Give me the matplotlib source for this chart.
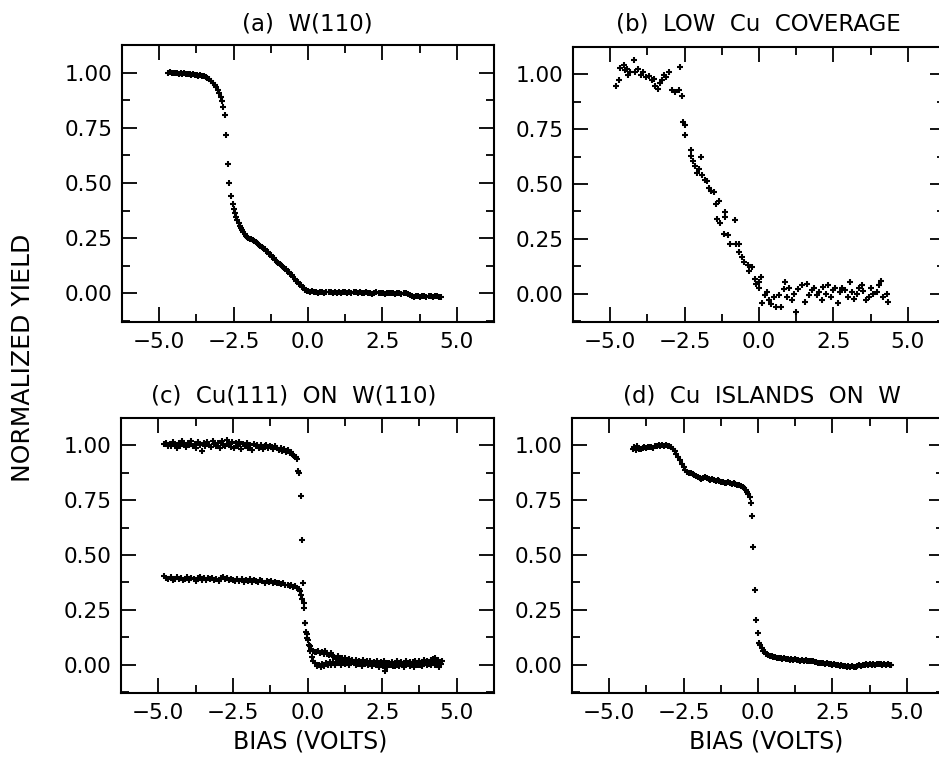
import matplotlib
matplotlib.use('Agg')
import matplotlib.pyplot as plt
from matplotlib.ticker import MultipleLocator, FuncFormatter

# ---- panel (a) W(110) ----
a_x = [-4.70, -4.64, -4.58, -4.52, -4.46, -4.40, -4.34, -4.28, -4.22, -4.16,
       -4.10, -4.04, -3.98, -3.92, -3.86, -3.80, -3.74, -3.68, -3.62, -3.56,
       -3.50, -3.44, -3.38, -3.32, -3.26, -3.20, -3.14, -3.08, -3.03, -2.98,
       -2.93, -2.89, -2.85, -2.80, -2.75, -2.69, -2.64, -2.58, -2.53, -2.49,
       -2.45, -2.41, -2.37, -2.33, -2.29, -2.25, -2.21, -2.17, -2.13, -2.09,
       -2.05, -2.00, -1.95, -1.90, -1.85, -1.80, -1.75, -1.70, -1.65, -1.60,
       -1.55, -1.50, -1.45, -1.40, -1.35, -1.30, -1.25, -1.20, -1.15, -1.10,
       -1.05, -1.00, -0.95, -0.90, -0.85, -0.80, -0.75, -0.70, -0.65, -0.60,
       -0.55, -0.50, -0.45, -0.40, -0.35, -0.30, -0.25, -0.20, -0.15, -0.10,
       -0.05, 0.00, 0.06, 0.13, 0.20, 0.27, 0.34, 0.41, 0.48, 0.55,
       0.62, 0.69, 0.76, 0.83, 0.90, 0.97, 1.04, 1.11, 1.18, 1.25,
       1.32, 1.39, 1.46, 1.53, 1.60, 1.67, 1.74, 1.81, 1.88, 1.95,
       2.02, 2.09, 2.16, 2.23, 2.30, 2.37, 2.44, 2.51, 2.58, 2.65,
       2.72, 2.79, 2.86, 2.93, 3.00, 3.07, 3.14, 3.21, 3.28, 3.35,
       3.42, 3.49, 3.56, 3.63, 3.70, 3.77, 3.84, 3.91, 3.98, 4.05,
       4.12, 4.19, 4.26, 4.33, 4.40, 4.47]
a_y = [1.000, 1.002, 0.998, 1.000, 0.996, 0.999, 0.995, 0.997, 0.993, 0.996,
       0.994, 0.992, 0.995, 0.990, 0.993, 0.989, 0.991, 0.986, 0.989, 0.984,
       0.986, 0.980, 0.976, 0.970, 0.962, 0.955, 0.945, 0.935, 0.922, 0.908,
       0.890, 0.872, 0.845, 0.808, 0.718, 0.585, 0.498, 0.441, 0.403, 0.380,
       0.362, 0.346, 0.332, 0.318, 0.306, 0.295, 0.285, 0.276, 0.268, 0.261,
       0.256, 0.251, 0.248, 0.244, 0.240, 0.236, 0.231, 0.226, 0.220, 0.215,
       0.209, 0.204, 0.199, 0.193, 0.186, 0.179, 0.173, 0.166, 0.159, 0.151,
       0.144, 0.138, 0.132, 0.126, 0.121, 0.116, 0.110, 0.102, 0.095, 0.088,
       0.081, 0.074, 0.066, 0.058, 0.051, 0.044, 0.036, 0.029, 0.022, 0.016,
       0.011, 0.009, 0.006, 0.010, 0.004, 0.008, 0.003, 0.007, 0.005, 0.002,
       0.008, 0.004, 0.006, 0.001, 0.005, 0.003, 0.006, 0.002, 0.004, 0.007,
       0.003, 0.005, 0.001, 0.004, 0.006, 0.002, 0.004, 0.000, 0.003, 0.005,
       0.001, 0.003, -0.001, 0.002, 0.004, 0.000, 0.002, 0.003, -0.001, 0.001,
       0.003, 0.000, 0.002, -0.002, 0.001, 0.003, -0.001, 0.001, 0.002, -0.004,
       -0.008, -0.012, -0.015, -0.010, -0.014, -0.018, -0.012, -0.010, -0.016, -0.013,
       -0.011, -0.017, -0.014, -0.012, -0.016, -0.018]

# ---- panel (b) low Cu coverage ----
b_x = [-4.79, -4.70, -4.68, -4.54, -4.51, -4.43, -4.40, -4.32, -4.21, -4.15,
       -4.06, -3.98, -3.90, -3.81, -3.70, -3.61, -3.53, -3.48, -3.39, -3.34,
       -3.25, -3.20, -3.11, -3.03, -2.92, -2.81, -2.70, -2.65, -2.59, -2.55,
       -2.47, -2.47, -2.30, -2.27, -2.23, -2.16, -2.08, -2.03, -1.94, -1.91,
       -1.82, -1.75, -1.67, -1.60, -1.52, -1.46, -1.35, -1.41, -1.30, -1.15,
       -1.13, -1.18, -1.04, -0.96, -0.81, -0.77, -0.68, -0.68, -0.57, -0.51,
       -0.37, -0.32, -0.23, -0.14, -0.10, -0.01, 0.08, -0.01, 0.10, 0.21,
       0.27, 0.33, 0.42, 0.50, 0.57, 0.66, 0.75, 0.83, 0.88, 0.94,
       1.02, 1.10, 1.19, 1.24, 1.32, 1.43, 1.54, 1.60, 1.68, 1.77,
       1.86, 1.94, 2.02, 2.11, 2.16, 2.24, 2.33, 2.42, 2.49, 2.57,
       2.66, 2.72, 2.80, 2.89, 2.98, 3.05, 3.13, 3.20, 3.28, 3.36,
       3.45, 3.50, 3.61, 3.69, 3.78, 3.84, 3.95, 4.03, 4.10, 4.18,
       4.29, 4.35]
b_y = [0.946, 0.973, 1.029, 1.045, 1.018, 1.026, 0.995, 1.013, 1.066, 1.011,
       1.026, 0.995, 1.011, 0.988, 0.991, 0.976, 0.980, 0.946, 0.935, 0.961,
       0.973, 0.995, 0.988, 1.011, 0.928, 0.920, 0.931, 1.036, 0.902, 0.784,
       0.769, 0.724, 0.656, 0.629, 0.604, 0.584, 0.551, 0.569, 0.623, 0.539,
       0.520, 0.513, 0.482, 0.467, 0.463, 0.407, 0.422, 0.340, 0.322, 0.371,
       0.348, 0.273, 0.265, 0.228, 0.335, 0.228, 0.228, 0.191, 0.168, 0.144,
       0.128, 0.105, 0.120, 0.068, 0.045, 0.053, 0.075, 0.025, -0.045, -0.008,
       0.008, -0.030, -0.050, -0.015, -0.061, -0.005, -0.061, 0.020, 0.054, -0.015,
       0.025, -0.030, 0.000, -0.083, 0.020, 0.038, -0.038, 0.042, -0.008, 0.015,
       0.025, -0.008, 0.008, -0.030, 0.030, 0.000, 0.038, -0.015, 0.015, 0.025,
       -0.042, 0.008, 0.025, 0.015, -0.015, 0.053, 0.008, -0.023, 0.000, 0.023,
       0.038, 0.011, -0.030, -0.015, 0.023, 0.000, 0.008, 0.038, 0.057, -0.015,
       0.000, -0.038]

# ---- panel (c) Cu(111) on W(110): two scans ----
c_hi_x = [-4.80, -4.74, -4.68, -4.62, -4.56, -4.50, -4.44, -4.38, -4.32, -4.26,
          -4.20, -4.14, -4.08, -4.02, -3.96, -3.90, -3.84, -3.78, -3.72, -3.66,
          -3.60, -3.54, -3.48, -3.42, -3.36, -3.30, -3.24, -3.18, -3.12, -3.06,
          -3.00, -2.94, -2.88, -2.82, -2.76, -2.70, -2.64, -2.58, -2.52, -2.46,
          -2.40, -2.34, -2.28, -2.22, -2.16, -2.10, -2.04, -1.98, -1.92, -1.86,
          -1.80, -1.74, -1.68, -1.62, -1.56, -1.50, -1.44, -1.38, -1.32, -1.26,
          -1.20, -1.14, -1.08, -1.02, -0.96, -0.90, -0.84, -0.78, -0.72, -0.66,
          -0.60, -0.55, -0.50, -0.45, -0.40, -0.35, -0.31, -0.27, -0.22, -0.18,
          -0.15, -0.11, -0.07, -0.03, 0.02, 0.07, 0.12, 0.18, 0.24, 0.30,
          0.36, 0.42, 0.48, 0.54, 0.60, 0.66, 0.72, 0.78, 0.84, 0.90,
          0.96, 1.02, 1.08, 1.14, 1.20, 1.26, 1.32, 1.38, 1.44, 1.50,
          1.56, 1.62, 1.68, 1.74, 1.80, 1.86, 1.92, 1.98, 2.04, 2.10,
          2.16, 2.22, 2.28, 2.34, 2.40, 2.46, 2.52, 2.58, 2.64, 2.70,
          2.76, 2.82, 2.88, 2.94, 3.00, 3.06, 3.12, 3.18, 3.24, 3.30,
          3.36, 3.42, 3.48, 3.54, 3.60, 3.66, 3.72, 3.78, 3.84, 3.90,
          3.96, 4.02, 4.08, 4.14, 4.20, 4.26, 4.32, 4.38, 4.44, 4.50]
c_hi_y = [1.005, 1.012, 0.998, 1.008, 0.995, 1.015, 1.002, 0.990, 1.010, 0.997,
          1.018, 1.004, 0.993, 1.012, 1.000, 1.020, 0.996, 1.008, 0.988, 1.014,
          1.000, 0.975, 1.010, 0.995, 1.016, 1.003, 0.992, 1.022, 1.006, 0.998,
          1.012, 0.990, 1.018, 1.004, 0.996, 1.025, 1.008, 0.994, 1.014, 0.987,
          1.010, 0.998, 1.016, 0.985, 1.006, 0.995, 1.012, 0.990, 1.003, 0.978,
          1.008, 0.996, 1.004, 0.990, 1.000, 0.985, 0.998, 1.002, 0.990, 0.995,
          0.992, 0.985, 0.996, 0.988, 0.980, 0.990, 0.975, 0.982, 0.972, 0.978,
          0.965, 0.970, 0.955, 0.950, 0.945, 0.938, 0.885, 0.875, 0.768, 0.568,
          0.374, 0.280, 0.190, 0.140, 0.110, 0.085, 0.070, 0.062, 0.058, 0.055,
          0.060, 0.052, 0.058, 0.048, 0.062, 0.050, 0.045, 0.052, 0.040, 0.035,
          0.030, 0.038, 0.022, 0.028, 0.018, 0.030, 0.015, 0.024, 0.010, 0.020,
          0.012, 0.022, 0.006, 0.016, 0.010, 0.020, 0.004, 0.014, 0.008, 0.018,
          0.002, 0.012, 0.006, 0.016, 0.000, 0.010, 0.004, 0.014, -0.004, 0.008,
          0.002, 0.012, -0.006, 0.006, 0.014, 0.000, 0.010, -0.004, 0.008, 0.016,
          0.004, 0.012, -0.002, 0.010, 0.018, 0.006, 0.014, 0.000, 0.012, 0.020,
          0.008, 0.016, 0.004, 0.022, 0.010, 0.028, 0.014, 0.020, 0.006, 0.016]
c_lo_x = [-4.80, -4.73, -4.66, -4.59, -4.52, -4.45, -4.38, -4.31, -4.24, -4.17,
          -4.10, -4.03, -3.96, -3.89, -3.82, -3.75, -3.68, -3.61, -3.54, -3.47,
          -3.40, -3.33, -3.26, -3.19, -3.12, -3.05, -2.98, -2.91, -2.84, -2.77,
          -2.70, -2.63, -2.56, -2.49, -2.42, -2.35, -2.28, -2.21, -2.14, -2.07,
          -2.00, -1.93, -1.86, -1.79, -1.72, -1.65, -1.58, -1.51, -1.44, -1.37,
          -1.30, -1.23, -1.16, -1.09, -1.02, -0.95, -0.88, -0.81, -0.74, -0.67,
          -0.60, -0.54, -0.48, -0.42, -0.36, -0.30, -0.25, -0.21, -0.17, -0.13,
          -0.09, -0.05, -0.01, 0.04, 0.09, 0.14, 0.20, 0.26, 0.32, 0.38,
          0.44, 0.50, 0.56, 0.62, 0.68, 0.74, 0.80, 0.86, 0.92, 0.98,
          1.05, 1.12, 1.19, 1.26, 1.33, 1.40, 1.47, 1.54, 1.61, 1.68,
          1.75, 1.82, 1.89, 1.96, 2.03, 2.10, 2.17, 2.24, 2.31, 2.38,
          2.45, 2.52, 2.59, 2.66, 2.73, 2.80, 2.87, 2.94, 3.01, 3.08,
          3.15, 3.22, 3.29, 3.36, 3.43, 3.50, 3.57, 3.64, 3.71, 3.78,
          3.85, 3.92, 3.99, 4.06, 4.13, 4.20, 4.27, 4.34, 4.41, 4.48]
c_lo_y = [0.402, 0.395, 0.390, 0.398, 0.386, 0.392, 0.400, 0.388, 0.394, 0.384,
          0.392, 0.398, 0.386, 0.395, 0.389, 0.382, 0.393, 0.400, 0.387, 0.396,
          0.384, 0.394, 0.388, 0.397, 0.385, 0.391, 0.383, 0.393, 0.400, 0.389,
          0.396, 0.384, 0.392, 0.386, 0.380, 0.390, 0.383, 0.388, 0.378, 0.386,
          0.380, 0.388, 0.377, 0.384, 0.381, 0.376, 0.385, 0.379, 0.374, 0.382,
          0.376, 0.380, 0.372, 0.378, 0.370, 0.374, 0.366, 0.370, 0.362, 0.365,
          0.358, 0.362, 0.354, 0.357, 0.350, 0.345, 0.336, 0.318, 0.300, 0.256,
          0.190, 0.150, 0.120, 0.090, 0.060, 0.035, 0.015, 0.005, -0.005, 0.000,
          -0.010, 0.004, -0.006, 0.008, -0.002, 0.012, 0.000, 0.010, -0.004, 0.006,
          0.014, -0.002, 0.008, 0.002, 0.012, -0.004, 0.006, 0.010, -0.002, 0.004,
          0.008, -0.006, 0.002, 0.010, -0.004, 0.004, -0.008, 0.006, 0.000, -0.010,
          0.002, -0.006, -0.030, -0.012, 0.006, -0.004, 0.004, -0.008, 0.000, -0.006,
          0.002, -0.010, -0.004, 0.004, -0.008, 0.000, -0.012, 0.006, -0.004, 0.002,
          -0.006, 0.004, -0.002, 0.010, 0.000, 0.026, -0.004, 0.012, -0.010, 0.004]

# ---- panel (d) Cu islands on W ----
d_x = [-4.20, -4.15, -4.10, -4.05, -4.00, -3.94, -3.88, -3.82, -3.76, -3.70,
       -3.64, -3.58, -3.52, -3.46, -3.40, -3.34, -3.28, -3.22, -3.16, -3.10,
       -3.04, -2.98, -2.92, -2.86, -2.80, -2.74, -2.68, -2.62, -2.56, -2.50,
       -2.44, -2.38, -2.32, -2.26, -2.20, -2.14, -2.08, -2.02, -1.96, -1.90,
       -1.84, -1.78, -1.72, -1.66, -1.60, -1.54, -1.48, -1.42, -1.36, -1.30,
       -1.24, -1.18, -1.12, -1.06, -1.00, -0.94, -0.88, -0.82, -0.76, -0.70,
       -0.64, -0.58, -0.52, -0.46, -0.41, -0.36, -0.32, -0.28, -0.24, -0.20,
       -0.16, -0.11, -0.06, -0.01, 0.04, 0.08, 0.13, 0.18, 0.23, 0.28,
       0.34, 0.40, 0.46, 0.52, 0.58, 0.64, 0.70, 0.76, 0.82, 0.88,
       0.94, 1.00, 1.06, 1.12, 1.18, 1.24, 1.30, 1.36, 1.42, 1.48,
       1.54, 1.60, 1.66, 1.72, 1.78, 1.84, 1.90, 1.96, 2.02, 2.08,
       2.14, 2.20, 2.26, 2.32, 2.38, 2.44, 2.50, 2.56, 2.62, 2.68,
       2.74, 2.80, 2.86, 2.92, 2.98, 3.04, 3.10, 3.16, 3.22, 3.28,
       3.34, 3.40, 3.46, 3.52, 3.58, 3.64, 3.70, 3.76, 3.82, 3.88,
       3.94, 4.00, 4.06, 4.12, 4.18, 4.24, 4.30, 4.36, 4.42, 4.48]
d_y = [0.985, 0.992, 0.978, 0.996, 0.985, 0.982, 0.990, 0.994, 0.990, 0.993,
       0.991, 0.994, 0.990, 0.996, 0.998, 1.003, 0.996, 1.000, 0.995, 1.002,
       0.998, 0.996, 0.992, 0.985, 0.975, 0.962, 0.948, 0.932, 0.915, 0.900,
       0.888, 0.880, 0.876, 0.872, 0.868, 0.866, 0.860, 0.858, 0.852, 0.848,
       0.850, 0.855, 0.852, 0.848, 0.842, 0.846, 0.840, 0.838, 0.842, 0.836,
       0.832, 0.835, 0.830, 0.828, 0.832, 0.829, 0.826, 0.828, 0.822, 0.820,
       0.818, 0.815, 0.810, 0.804, 0.798, 0.788, 0.778, 0.766, 0.737, 0.676,
       0.536, 0.342, 0.205, 0.145, 0.098, 0.090, 0.075, 0.062, 0.055, 0.048,
       0.044, 0.040, 0.038, 0.036, 0.034, 0.030, 0.028, 0.031, 0.026, 0.028,
       0.025, 0.027, 0.022, 0.024, 0.021, 0.023, 0.020, 0.022, 0.018, 0.021,
       0.017, 0.019, 0.016, 0.018, 0.014, 0.015, 0.011, 0.012, 0.008, 0.009,
       0.006, 0.007, 0.004, 0.005, 0.002, 0.003, 0.000, 0.001, -0.003, -0.002,
       -0.005, -0.004, -0.008, -0.007, -0.010, -0.008, -0.011, -0.009, -0.012, -0.010,
       -0.006, -0.002, -0.005, 0.000, -0.003, 0.001, -0.002, 0.002, -0.001, 0.003,
       0.000, 0.004, 0.001, 0.003, -0.001, 0.002, -0.002, 0.001, -0.003, -0.004]

titles = ['(a)  W(110)', '(b)  LOW  Cu  COVERAGE',
          '(c)  Cu(111)  ON  W(110)', '(d)  Cu  ISLANDS  ON  W']

plt.rcParams['font.family'] = ['DejaVu Sans']

fig = plt.figure(figsize=(9.39, 7.58), dpi=100)
W, H = 939.0, 758.0
# axes boxes in pixels: left, top, right, bottom
boxes = [(122, 45, 494, 322), (573, 47, 945, 322),
         (121, 418, 494, 693), (572, 418, 944, 693)]
axes = []
for (l, t, r, b) in boxes:
    ax = fig.add_axes([l / W, 1 - b / H, (r - l) / W, (b - t) / H])
    axes.append(ax)


def fmt(digits):
    return FuncFormatter(lambda v, p: f'{v:.{digits}f}'.replace('-', '\u2212'))


series = [[(a_x, a_y)], [(b_x, b_y)], [(c_hi_x, c_hi_y), (c_lo_x, c_lo_y)], [(d_x, d_y)]]
for ax, sets in zip(axes, series):
    for xs, ys in sets:
        ax.plot(xs, ys, linestyle='none', marker='+', color='black',
                markersize=5, markeredgewidth=1.5)
    ax.set_xlim(-6.25, 6.25)
    ax.set_ylim(-0.13, 1.125)
    ax.xaxis.set_major_locator(MultipleLocator(2.5))
    ax.xaxis.set_minor_locator(MultipleLocator(1.25))
    ax.yaxis.set_major_locator(MultipleLocator(0.25))
    ax.yaxis.set_minor_locator(MultipleLocator(0.125))
    ax.xaxis.set_major_formatter(fmt(1))
    ax.yaxis.set_major_formatter(fmt(2))
    ax.tick_params(which='both', direction='in', top=True, right=True, width=1.3)
    ax.tick_params(which='major', length=11, labelsize=15.5, pad=7)
    ax.tick_params(which='minor', length=6)
    for s in ax.spines.values():
        s.set_linewidth(1.5)

title_pos = [(307, 24), (758, 24), (294, 396), (762, 396)]
for (px, py), t in zip(title_pos, titles):
    fig.text(px / W, 1 - py / H, t, ha='center', va='center', fontsize=16.5)

fig.text(310 / W, 1 - 742 / H, 'BIAS (VOLTS)', ha='center', va='center', fontsize=17)
fig.text(766 / W, 1 - 742 / H, 'BIAS (VOLTS)', ha='center', va='center', fontsize=17)
fig.text(23 / W, 1 - 358 / H, 'NORMALIZED YIELD', ha='center', va='center',
         rotation=90, fontsize=18)

fig.savefig('out.png', dpi=100)
